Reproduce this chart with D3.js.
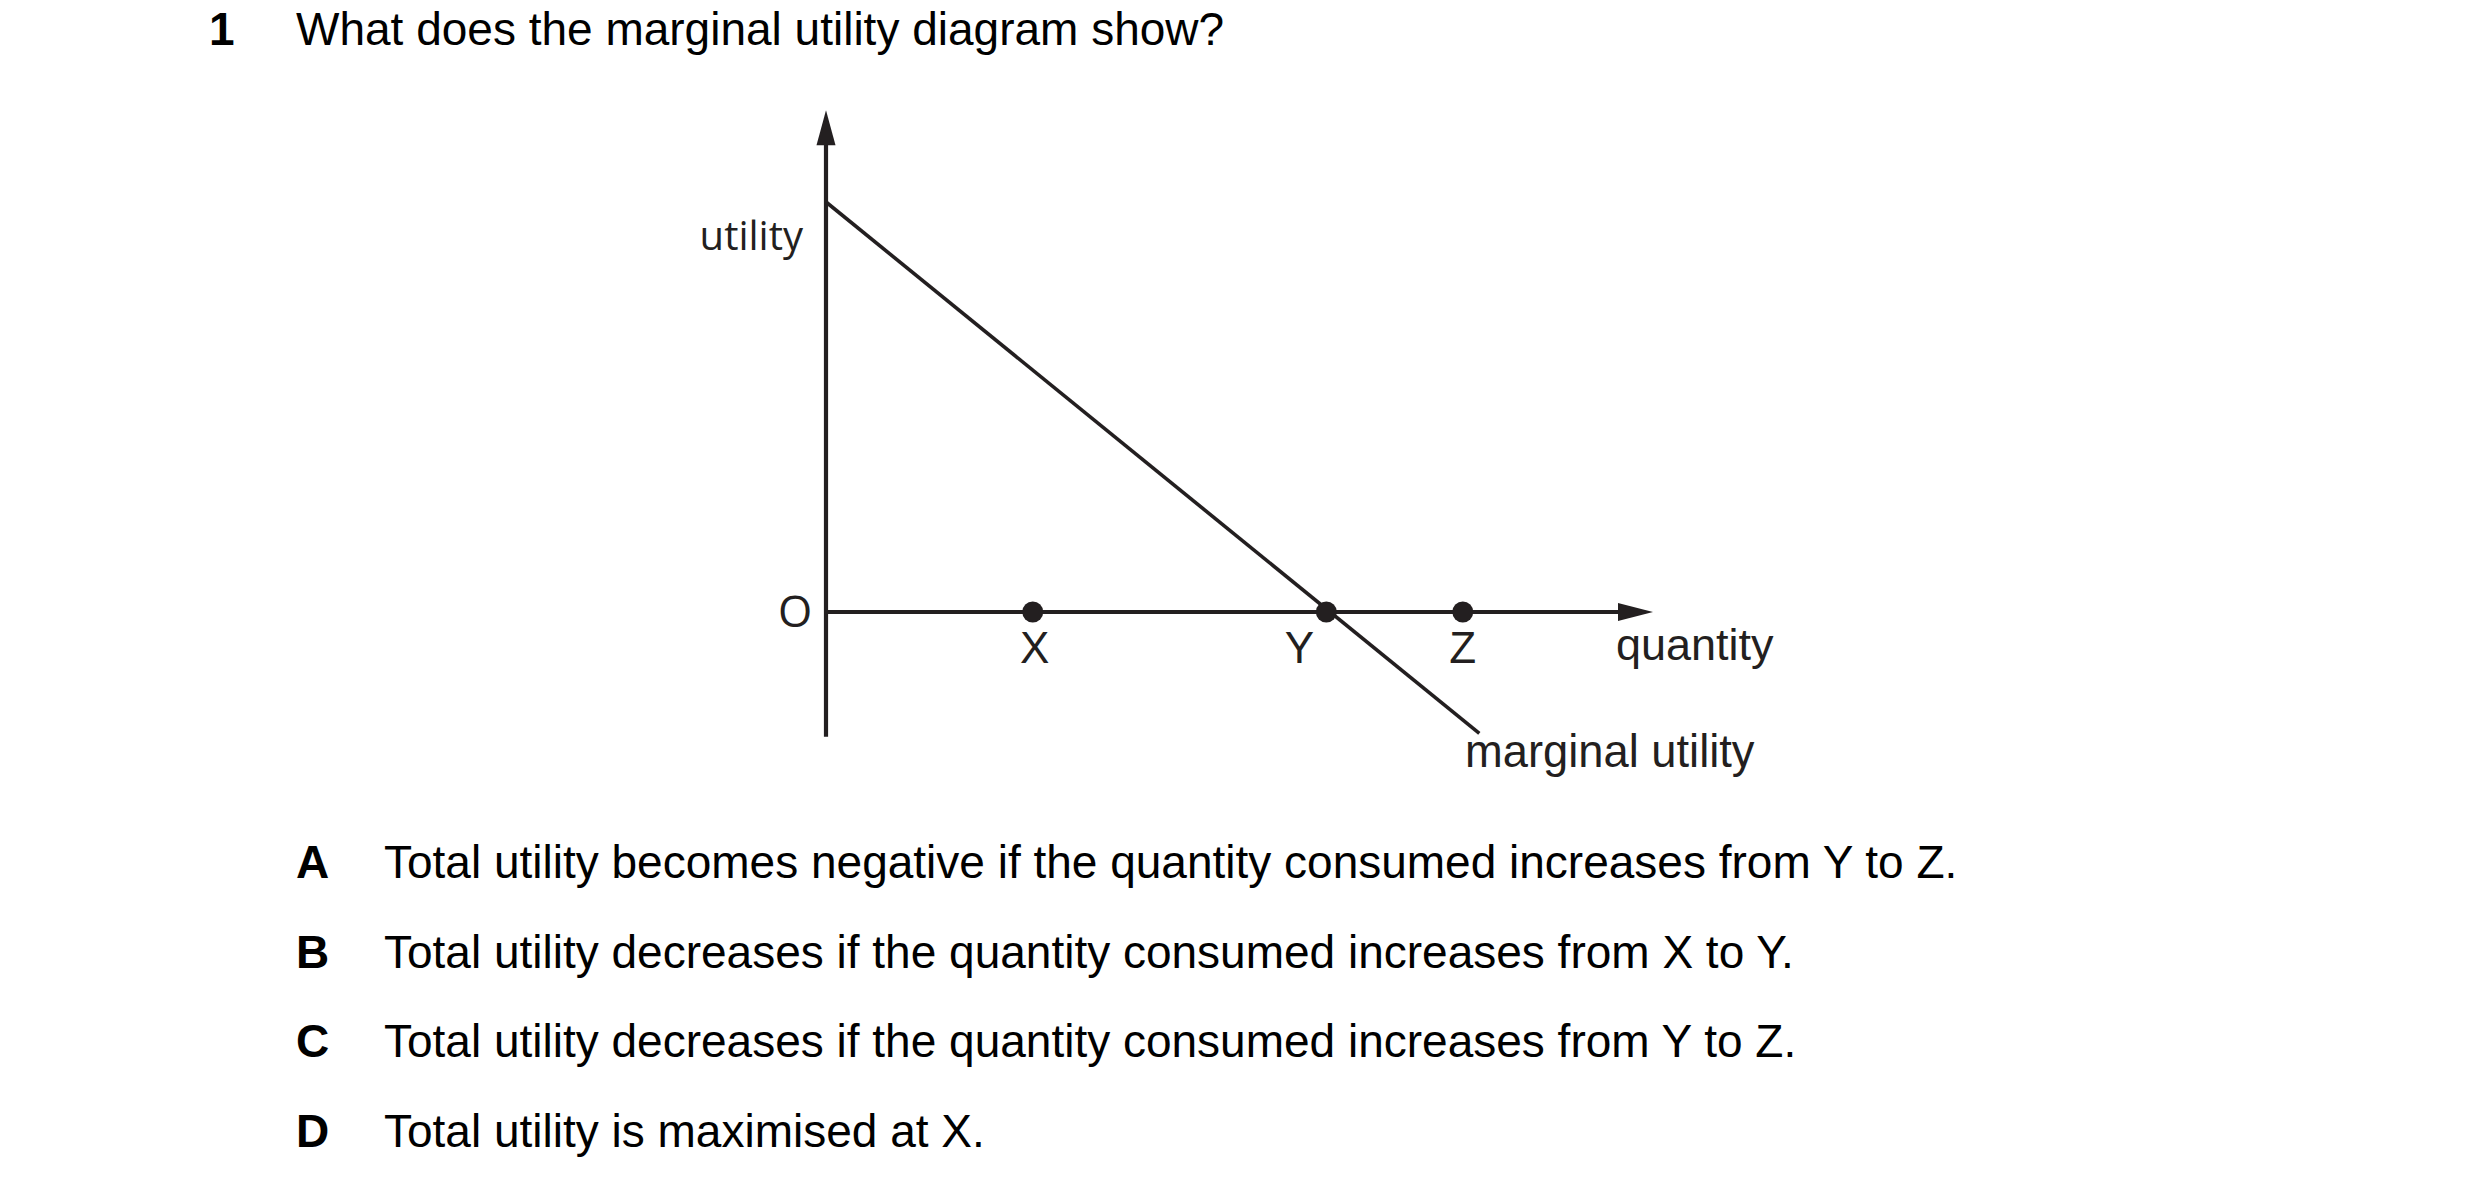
<!DOCTYPE html>
<html>
<head>
<meta charset="utf-8">
<script src="https://cdn.jsdelivr.net/npm/d3@7"></script>
<style>
html,body{margin:0;padding:0;background:#fff;}
svg{display:block;}
</style>
</head>
<body>
<svg id="chart" width="2480" height="1199"></svg>
<script>
// ---- data ----
const questionNumber = "1";
const questionText = "What does the marginal utility diagram show?";
const pointLabels = ["X", "Y", "Z"];
const pointQuantities = [2.5, 6.05, 7.7];
const curveQuantities = [0, 7.9];
const curveUtility = [5, -1.48];
const axisQuantityMax = 10;
const axisUtilityMax = 6.12;
const axisUtilityMin = -1.52;
const optionLetters = ["A", "B", "C", "D"];
const optionTexts = [
  "Total utility becomes negative if the quantity consumed increases from Y to Z.",
  "Total utility decreases if the quantity consumed increases from X to Y.",
  "Total utility decreases if the quantity consumed increases from Y to Z.",
  "Total utility is maximised at X."
];

// ---- layout ----
const ink = "#231f20";
const svg = d3.select("#chart");
const x = d3.scaleLinear().domain([0, axisQuantityMax]).range([826, 1653]);
const y = d3.scaleLinear().domain([0, 5]).range([612, 202]);

// question header
svg.append("text").attr("x", 209).attr("y", 45)
  .attr("font-family", "Liberation Sans, Arial, sans-serif").attr("font-weight", "bold")
  .attr("font-size", 46).attr("fill", "#000").text(questionNumber);
svg.append("text").attr("x", 296).attr("y", 45)
  .attr("font-family", "Liberation Sans, Arial, sans-serif")
  .attr("font-size", 46).attr("fill", "#000").text(questionText);

const g = svg.append("g");

// y axis
g.append("line")
  .attr("x1", x(0)).attr("x2", x(0))
  .attr("y1", y(axisUtilityMin)).attr("y2", y(axisUtilityMax) + 30)
  .attr("stroke", ink).attr("stroke-width", 4.2);
g.append("path")
  .attr("d", `M${x(0)},${y(axisUtilityMax)} L${x(0) - 9.5},${y(axisUtilityMax) + 35} L${x(0) + 9.5},${y(axisUtilityMax) + 35} Z`)
  .attr("fill", ink);

// x axis
g.append("line")
  .attr("x1", x(0)).attr("x2", x(axisQuantityMax) - 30)
  .attr("y1", y(0)).attr("y2", y(0))
  .attr("stroke", ink).attr("stroke-width", 4.2);
g.append("path")
  .attr("d", `M${x(axisQuantityMax)},${y(0)} L${x(axisQuantityMax) - 35},${y(0) - 9} L${x(axisQuantityMax) - 35},${y(0) + 9} Z`)
  .attr("fill", ink);

// marginal utility curve
const curveData = curveQuantities.map((q, i) => ({q, u: curveUtility[i]}));
g.append("path").datum(curveData)
  .attr("d", d3.line().x(d => x(d.q)).y(d => y(d.u)))
  .attr("fill", "none").attr("stroke", ink).attr("stroke-width", 3.6);

// points
const pts = pointQuantities.map((q, i) => ({q, label: pointLabels[i]}));
g.selectAll("circle.pt").data(pts).enter().append("circle")
  .attr("cx", d => x(d.q)).attr("cy", y(0)).attr("r", 10.5).attr("fill", ink);
const labelDx = [2, -27, 0];
g.selectAll("text.pt").data(pts).enter().append("text")
  .attr("x", (d, i) => x(d.q) + labelDx[i]).attr("y", 663)
  .attr("text-anchor", "middle")
  .attr("font-family", "Liberation Sans, Arial, sans-serif")
  .attr("font-size", 44).attr("fill", ink).text(d => d.label);

// axis labels
g.append("text").attr("x", 795).attr("y", 612).attr("dy", "0.35em")
  .attr("text-anchor", "middle")
  .attr("font-family", "Open Sans, sans-serif")
  .attr("font-size", 44).attr("fill", ink).text("O");
g.append("text").attr("x", 803).attr("y", 250)
  .attr("text-anchor", "end")
  .attr("font-family", "Open Sans, sans-serif")
  .attr("font-size", 40).attr("fill", ink).text("utility");
g.append("text").attr("x", 1616).attr("y", 660)
  .attr("font-family", "Liberation Sans, Arial, sans-serif")
  .attr("font-size", 45).attr("fill", ink).text("quantity");
g.append("text").attr("x", 1465).attr("y", 767)
  .attr("font-family", "Liberation Sans, Arial, sans-serif")
  .attr("font-size", 45.3).attr("fill", ink).text("marginal utility");

// options
const baselines = [878, 968, 1057, 1147];
optionLetters.forEach((L, i) => {
  svg.append("text").attr("x", 296).attr("y", baselines[i])
    .attr("font-family", "Liberation Sans, Arial, sans-serif").attr("font-weight", "bold")
    .attr("font-size", 46).attr("fill", "#000").text(L);
  svg.append("text").attr("x", 384).attr("y", baselines[i])
    .attr("font-family", "Liberation Sans, Arial, sans-serif")
    .attr("font-size", 46).attr("fill", "#000").text(optionTexts[i]);
});
</script>
</body>
</html>
